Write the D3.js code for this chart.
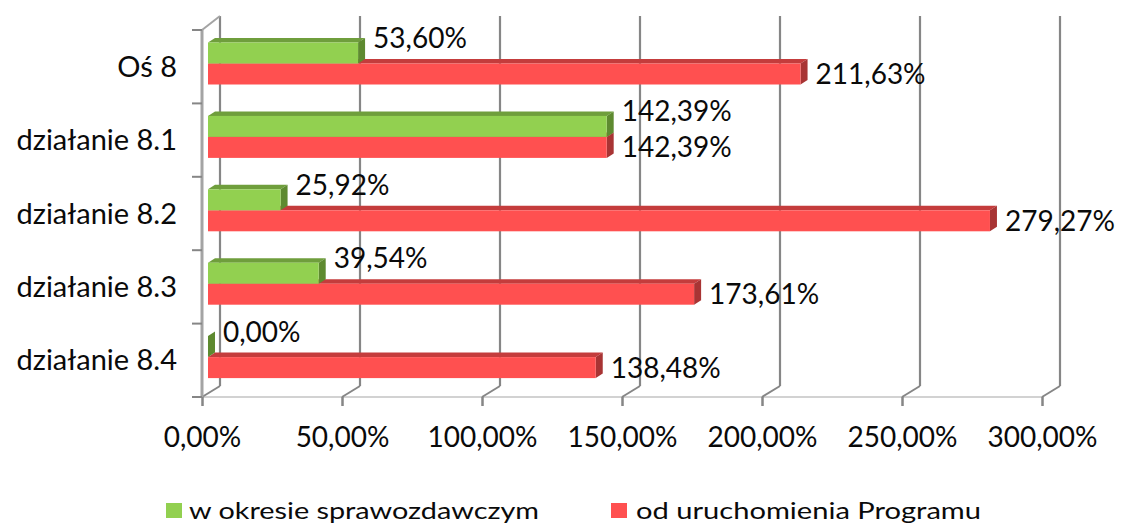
<!DOCTYPE html>
<html lang="pl">
<head>
<meta charset="utf-8">
<script src="https://cdn.jsdelivr.net/npm/d3@7"></script>
<style>
  html, body { margin: 0; padding: 0; background: #ffffff; }
  svg { display: block; font-family: Lato, "Open Sans", sans-serif; }
</style>
</head>
<body>
<svg id="chart" width="1122" height="527"></svg>
<script>
// Categories (top to bottom) and the two series, in percent
const categories = ["Oś 8", "działanie 8.1", "działanie 8.2", "działanie 8.3", "działanie 8.4"];
const seriesNames = ["w okresie sprawozdawczym", "od uruchomienia Programu"];
const okresValues = [53.60, 142.39, 25.92, 39.54, 0.00];
const programValues = [211.63, 142.39, 279.27, 173.61, 138.48];
const xTicks = [0, 50, 100, 150, 200, 250, 300];

const colors = {
  green: { front: "#92d050", top: "#6f9e3c", side: "#5e8a30" },
  red:   { front: "#ff5050", top: "#c43c3c", side: "#a83434" }
};

const fmt = v => v.toFixed(2).replace(".", ",") + "%";

const svg = d3.select("#chart");

// Front plane of the 3D box, and the depth offsets of back wall and bars
const x = d3.scaleLinear().domain([0, 300]).range([202, 1042]);
const y = d3.scaleBand().domain(categories).range([30, 397]).padding(0);
const wall = { dx: 18, dy: -11, topY: 16 };
const barShift = { dx: 6 };
const depth = { dx: 7, dy: -4.5 };
const inner = d3.scaleBand().domain(seriesNames).range([12.5, 54.5]).padding(0);

const floorY = 397;

// Back wall gridlines
const grid = svg.append("g");
grid.selectAll("line.grid")
  .data(xTicks)
  .join("line")
  .attr("x1", d => x(d) + wall.dx).attr("x2", d => x(d) + wall.dx)
  .attr("y1", wall.topY).attr("y2", floorY + wall.dy)
  .attr("stroke", "#868686").attr("stroke-width", 2.2);

// Floor: front edge and diagonals to the back wall
grid.append("line")
  .attr("x1", x(0)).attr("x2", x(300))
  .attr("y1", floorY).attr("y2", floorY)
  .attr("stroke", "#d2d2d2").attr("stroke-width", 2);
grid.selectAll("line.diag")
  .data(xTicks)
  .join("line")
  .attr("x1", d => x(d)).attr("y1", floorY)
  .attr("x2", d => x(d) + wall.dx).attr("y2", floorY + wall.dy)
  .attr("stroke", "#868686").attr("stroke-width", 2);

// Side wall: front vertical edge and top diagonal
grid.append("line")
  .attr("x1", x(0)).attr("x2", x(0))
  .attr("y1", 30).attr("y2", floorY)
  .attr("stroke", "#a4a4a4").attr("stroke-width", 3);
grid.append("line")
  .attr("x1", x(0)).attr("y1", 30)
  .attr("x2", x(0) + wall.dx).attr("y2", wall.topY)
  .attr("stroke", "#a4a4a4").attr("stroke-width", 2);

// Category ticks on the left edge
const yTicks = categories.map(c => y(c)).concat([y.range()[1]]);
grid.selectAll("line.ytick")
  .data(yTicks)
  .join("line")
  .attr("x1", x(0) - 10).attr("x2", x(0))
  .attr("y1", d => d).attr("y2", d => d)
  .attr("stroke", "#868686").attr("stroke-width", 2);

// Value axis
const xAxis = d3.axisBottom(x)
  .tickValues(xTicks)
  .tickFormat(fmt)
  .tickSize(9)
  .tickPadding(21);
const ax = svg.append("g").attr("transform", `translate(0,${floorY})`).call(xAxis);
ax.select(".domain").remove();
ax.selectAll(".tick line").attr("stroke", "#868686").attr("stroke-width", 2.5);
ax.selectAll(".tick text")
  .attr("font-size", 28).attr("fill", "#0a0a0a")
  .attr("font-family", "Lato, sans-serif");

// Category labels
svg.append("g").selectAll("text")
  .data(categories)
  .join("text")
  .attr("x", 177)
  .attr("y", d => y(d) + y.bandwidth() / 2 + 10)
  .attr("text-anchor", "end")
  .attr("font-size", 29).attr("fill", "#0a0a0a")
  .text(d => d);

// 3D bar: front face, top face and end face
function drawBar(g, v, top, h, c) {
  const x0 = x(0) + barShift.dx;
  const x1 = x(v) + barShift.dx;
  const bottom = top + h;
  g.append("polygon")
    .attr("points", [[x0, top], [x0 + depth.dx, top + depth.dy], [x1 + depth.dx, top + depth.dy], [x1, top]].join(" "))
    .attr("fill", c.top);
  g.append("polygon")
    .attr("points", [[x1, top], [x1 + depth.dx, top + depth.dy], [x1 + depth.dx, bottom + depth.dy], [x1, bottom]].join(" "))
    .attr("fill", c.side);
  g.append("rect")
    .attr("x", x0).attr("y", top)
    .attr("width", x1 - x0).attr("height", h)
    .attr("fill", c.front);
}

const bars = svg.append("g");
categories.forEach((cat, i) => {
  const g = bars.append("g");
  const yr = y(cat) + inner(seriesNames[1]);
  const yg = y(cat) + inner(seriesNames[0]);
  drawBar(g, programValues[i], yr, inner.bandwidth(), colors.red);
  drawBar(g, okresValues[i], yg, inner.bandwidth(), colors.green);
});

// Value labels
const labels = svg.append("g").attr("font-size", 28).attr("fill", "#0a0a0a");
categories.forEach((cat, i) => {
  const ygc = y(cat) + inner(seriesNames[0]) + inner.bandwidth() / 2;
  const yrc = y(cat) + inner(seriesNames[1]) + inner.bandwidth() / 2;
  labels.append("text")
    .attr("x", x(okresValues[i]) + barShift.dx + 15)
    .attr("y", ygc - 15 + 10)
    .text(fmt(okresValues[i]));
  labels.append("text")
    .attr("x", x(programValues[i]) + barShift.dx + 15)
    .attr("y", yrc + 10)
    .text(fmt(programValues[i]));
});

// Legend
const legend = svg.append("g");
const legendItems = [
  { name: seriesNames[0], color: colors.green.front, sx: 166, tx: 189, w: 350 },
  { name: seriesNames[1], color: colors.red.front, sx: 611, tx: 636, w: 345 }
];
legendItems.forEach(it => {
  legend.append("rect")
    .attr("x", it.sx).attr("y", 503).attr("width", 16).attr("height", 15)
    .attr("fill", it.color);
  legend.append("text")
    .attr("x", it.tx).attr("y", 519)
    .attr("font-size", 23).attr("fill", "#0a0a0a")
    .attr("textLength", it.w).attr("lengthAdjust", "spacingAndGlyphs")
    .text(it.name);
});
</script>
</body>
</html>
